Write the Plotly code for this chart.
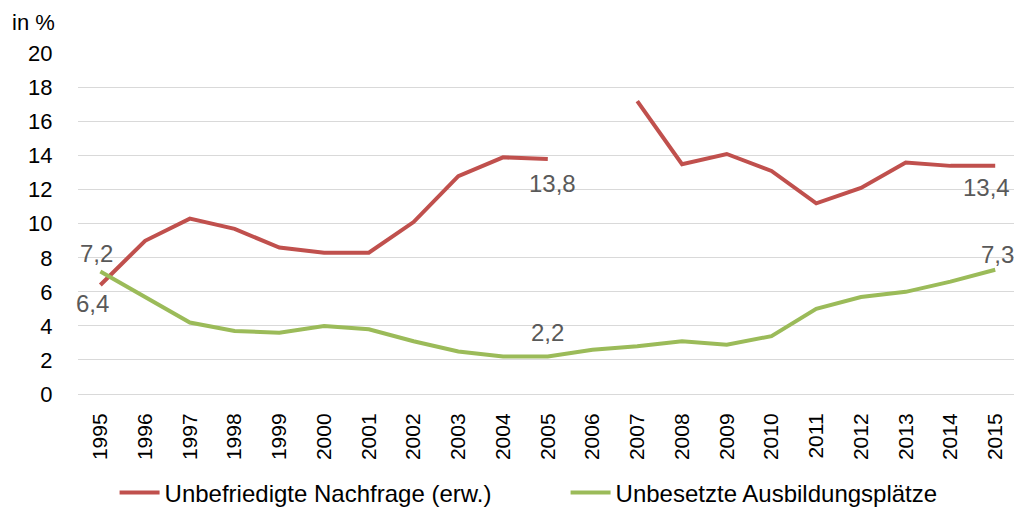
import plotly.graph_objects as go

years = [str(y) for y in range(1995, 2016)]
nachfrage = [6.4, 9.0, 10.3, 9.7, 8.6, 8.3, 8.3, 10.1, 12.8, 13.9, 13.8, None,
             17.2, 13.5, 14.1, 13.1, 11.2, 12.1, 13.6, 13.4, 13.4]
unbesetzt = [7.2, 5.7, 4.2, 3.7, 3.6, 4.0, 3.8, 3.1, 2.5, 2.2, 2.2, 2.6,
             2.8, 3.1, 2.9, 3.4, 5.0, 5.7, 6.0, 6.6, 7.3]
series_names = ["Unbefriedigte Nachfrage (erw.)", "Unbesetzte Ausbildungsplätze"]
y_ticks = [0, 2, 4, 6, 8, 10, 12, 14, 16, 18, 20]

RED = "#C0504D"
GREEN = "#9BBB59"
FONT = "Liberation Sans, Arial, sans-serif"

fig = go.Figure()
fig.add_trace(go.Scatter(x=years, y=nachfrage, mode="lines", name=series_names[0],
                         line=dict(color=RED, width=4), connectgaps=False))
fig.add_trace(go.Scatter(x=years, y=unbesetzt, mode="lines", name=series_names[1],
                         line=dict(color=GREEN, width=4)))

# data labels: (series values, index, xshift, yshift)
label_specs = [
    (unbesetzt, 0, -4, 18),
    (nachfrage, 0, -8, -18),
    (nachfrage, 10, 5, -24),
    (unbesetzt, 10, 0, 24),
    (nachfrage, 20, -9, -22),
    (unbesetzt, 20, 2, 15),
]
for vals, i, dx, dy in label_specs:
    fig.add_annotation(x=i, y=vals[i], xref="x", yref="y",
                       text=f"{vals[i]:.1f}".replace(".", ","),
                       showarrow=False, xshift=dx, yshift=dy,
                       font=dict(family=FONT, size=24, color="#595959"))

fig.add_annotation(text="in %", xref="paper", yref="paper", x=-0.0225, y=1.09,
                   xanchor="right", yanchor="middle", showarrow=False,
                   font=dict(family=FONT, size=22, color="#000000"))

fig.update_layout(
    width=1014, height=507,
    margin=dict(l=78, r=0, t=53, b=113, autoexpand=False),
    paper_bgcolor="white", plot_bgcolor="white",
    font=dict(family=FONT, size=22, color="#000000"),
    showlegend=True,
    legend=dict(orientation="h", xref="container", yref="container",
                x=0.113, xanchor="left", y=0.028, yanchor="middle",
                font=dict(family=FONT, size=24, color="#000000"),
                itemwidth=40, entrywidth=396, entrywidthmode="pixels"),
    xaxis=dict(type="category", tickangle=-90, showgrid=False,
               showline=True, linecolor="#D9D9D9", linewidth=1,
               ticks="outside", ticklen=10, tickcolor="rgba(0,0,0,0)",
               tickfont=dict(family=FONT, size=21, color="#000000"),
               range=[-0.5, 20.42], automargin=False),
    yaxis=dict(range=[0, 20.03], tickvals=y_ticks, showgrid=True, gridcolor="#D9D9D9",
               gridwidth=1, zeroline=False, showline=False,
               ticks="outside", ticklen=20, tickcolor="rgba(0,0,0,0)",
               tickfont=dict(family=FONT, size=22, color="#000000"),
               automargin=False),
)

fig.write_html("out.html", config={"displayModeBar": False},
               post_script="document.body.style.margin='0';document.body.style.overflow='hidden';")
